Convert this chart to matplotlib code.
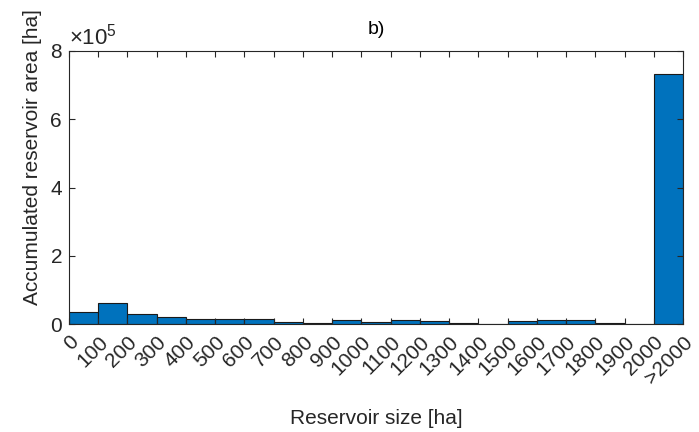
import matplotlib.pyplot as plt
import numpy as np
from matplotlib.ticker import FuncFormatter

plt.rcParams['font.family'] = ['Liberation Sans', 'DejaVu Sans']
plt.rcParams['mathtext.fontset'] = 'custom'
plt.rcParams['mathtext.rm'] = 'Liberation Sans'

# Accumulated reservoir area per size class
bin_labels = ['0', '100', '200', '300', '400', '500', '600', '700', '800', '900',
              '1000', '1100', '1200', '1300', '1400', '1500', '1600', '1700',
              '1800', '1900', '2000', '>2000']
area_ha = [36000, 61000, 29000, 21000, 15000, 15000, 15000, 7000, 3000, 13000,
           7000, 13000, 8000, 3000, 0, 8000, 11000, 11000, 3000, 0, 734000]

grey = '#262626'
fig = plt.figure(figsize=(6.99, 4.32), dpi=100)
ax = fig.add_axes([69/699, 1 - 324/432, 614/699, 273/432])

x = np.arange(len(area_ha))
ax.bar(x, area_ha, width=1.0, align='edge', color='#0072BD',
       edgecolor='#1a1a1a', linewidth=0.8)

ax.set_xlim(0, len(area_ha))
ax.set_ylim(0, 8e5)
ax.set_xticks(np.arange(len(bin_labels)))
ax.set_xticklabels(bin_labels, rotation=45, ha='right', va='top',
                   rotation_mode='anchor', fontsize=15, color=grey)
ax.set_yticks([0, 2e5, 4e5, 6e5, 8e5])
ax.yaxis.set_major_formatter(FuncFormatter(lambda v, p: '%d' % round(v / 1e5)))
ax.tick_params(axis='y', labelsize=15, labelcolor=grey, pad=5)
ax.tick_params(direction='in', top=True, right=True, length=4,
               color=grey, width=0.8)
ax.tick_params(axis='x', pad=6)
for s in ax.spines.values():
    s.set_color(grey)
    s.set_linewidth(0.8)

ax.text(0.0, 1.005, r'$\times10^5$', transform=ax.transAxes, fontsize=16,
        color=grey, ha='left', va='bottom')
ax.set_title('b)', fontsize=14, color='black', pad=12)
ax.set_xlabel('Reservoir size [ha]', fontsize=15, color=grey)
ax.xaxis.set_label_coords(0.5, -0.31)
ax.set_ylabel('Accumulated reservoir area [ha]', fontsize=15, color=grey)
ax.yaxis.set_label_coords(-0.044, 0.61)

plt.savefig('out.png', dpi=100)
